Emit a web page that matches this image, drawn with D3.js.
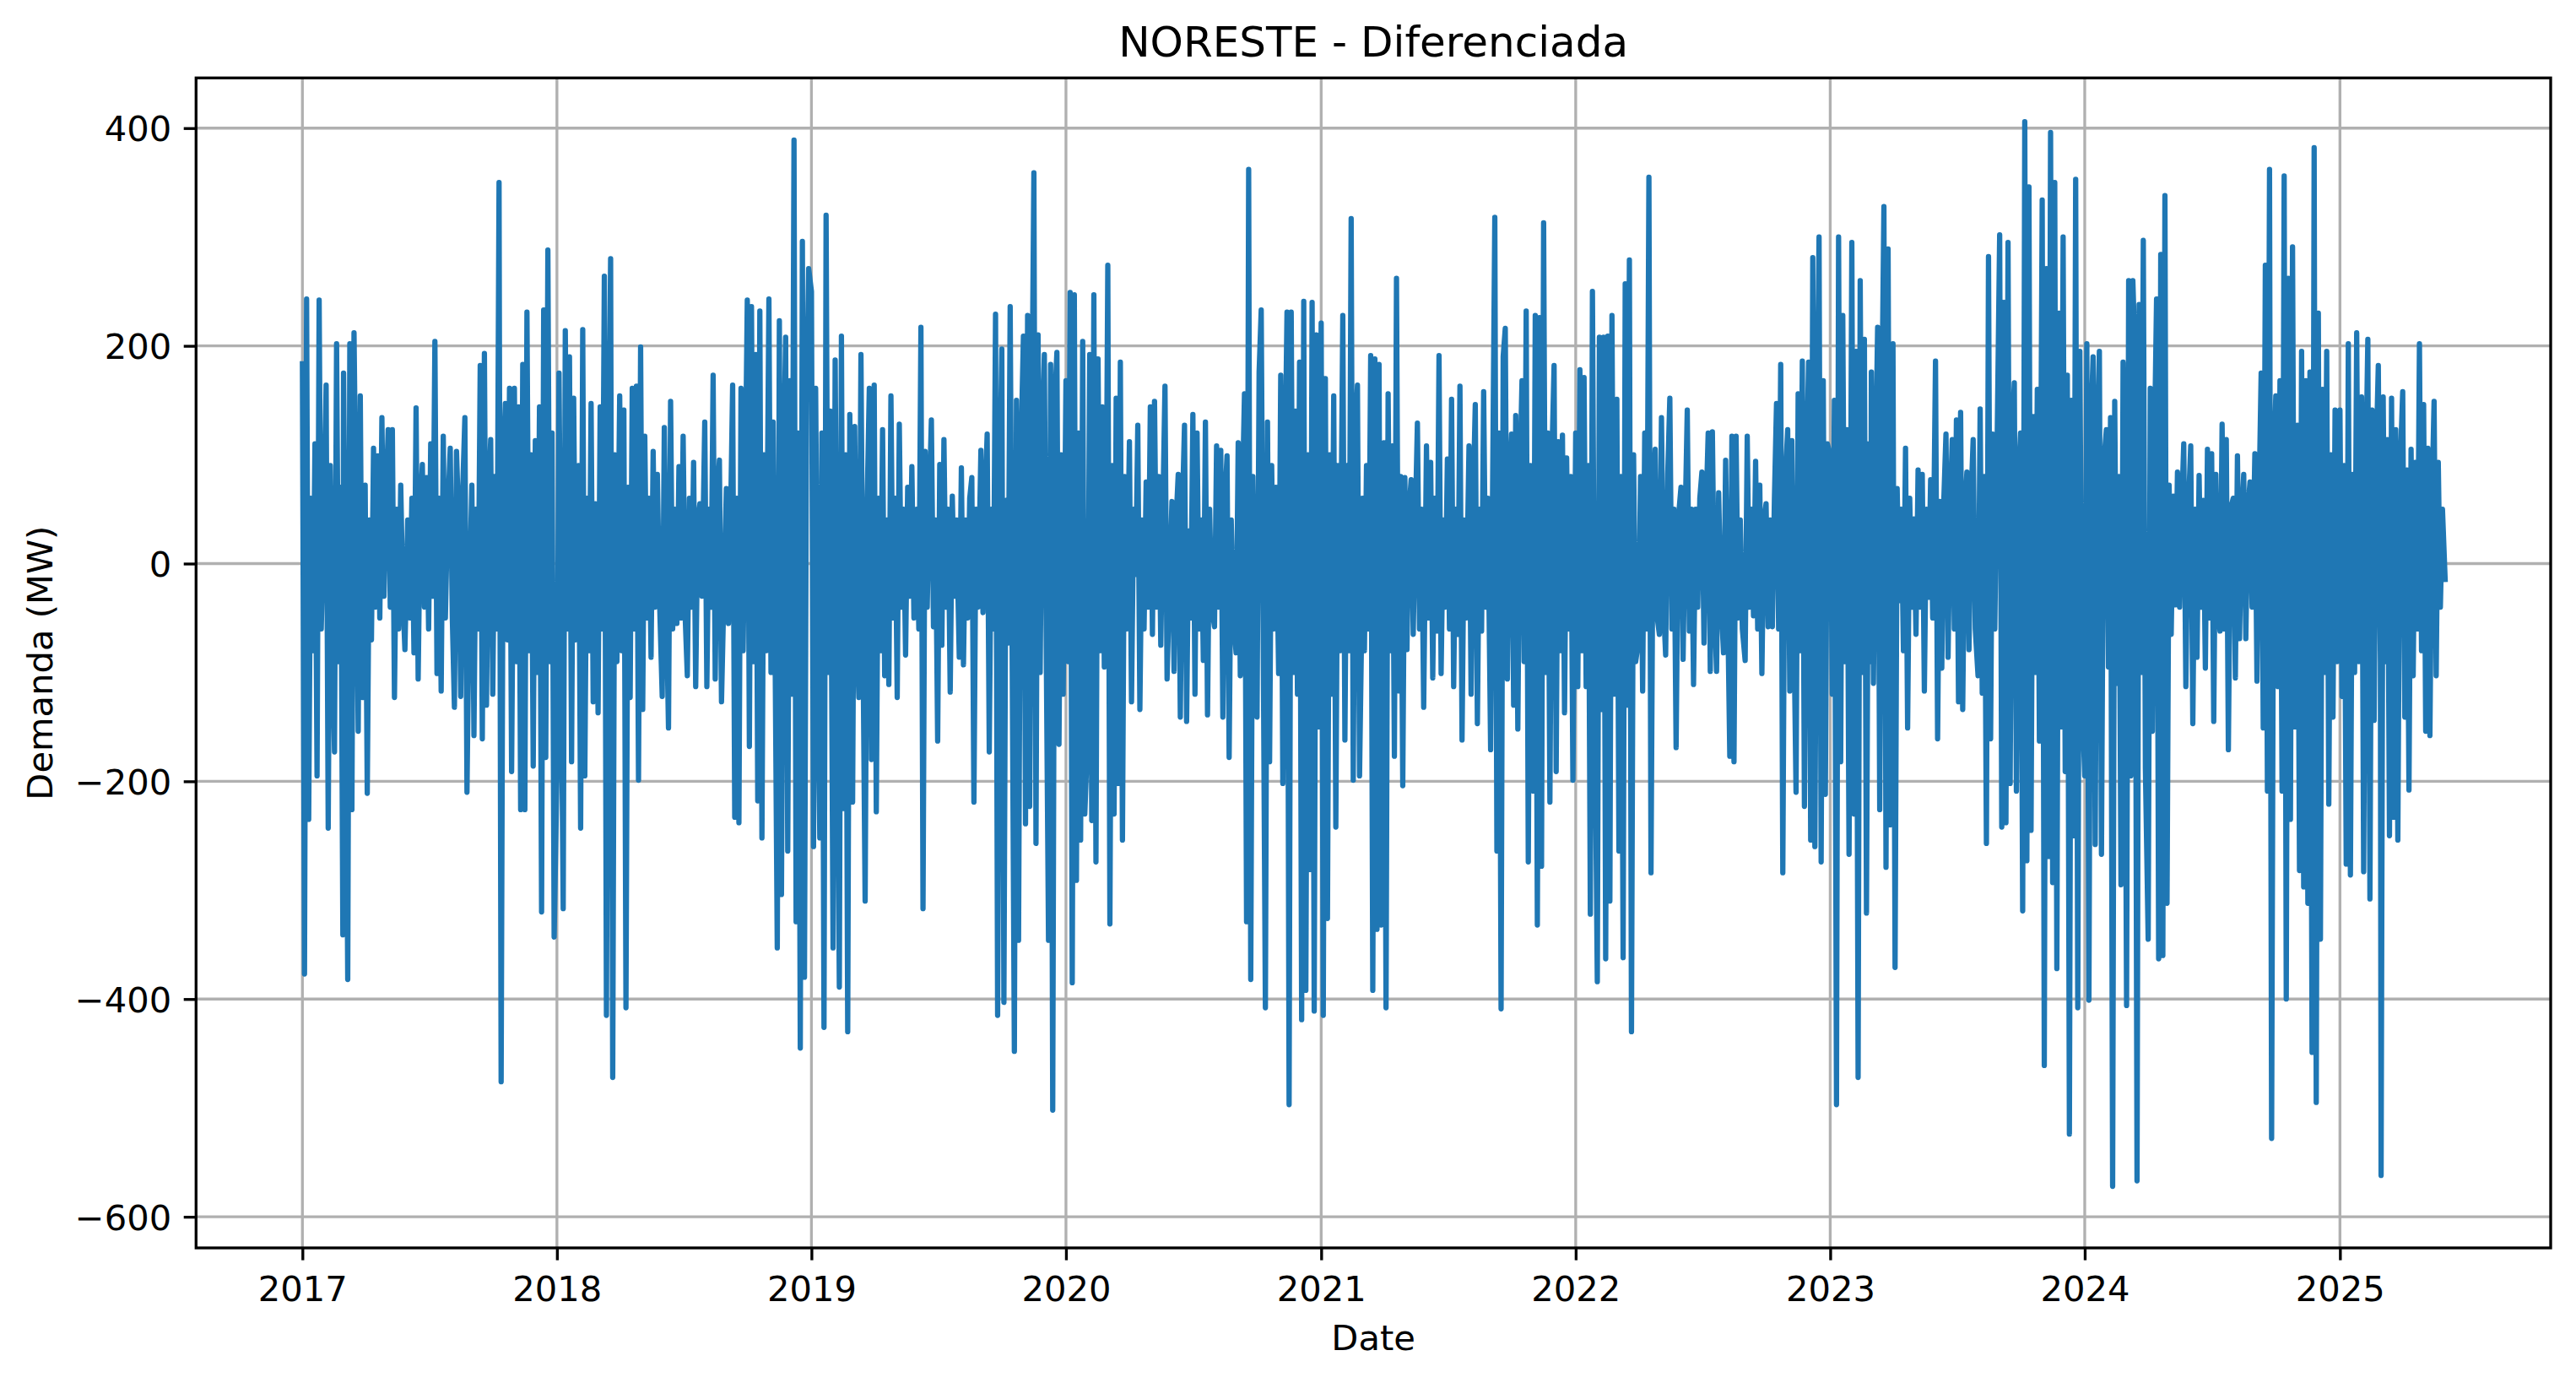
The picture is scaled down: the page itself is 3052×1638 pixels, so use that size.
<!DOCTYPE html>
<html>
<head>
<meta charset="utf-8">
<script src="https://cdn.jsdelivr.net/npm/d3@7"></script>
<style>
  body { margin: 0; background: #fff; }
  text { font-family: "DejaVu Sans", sans-serif; fill: #000; }
</style>
</head>
<body>
<svg id="vis"></svg>
<script>
const width = 3052;
const height = 1638;
const margin = { top: 92.3, right: 30, bottom: 160, left: 232.3 };

const title = "NORESTE - Diferenciada";
const xLabel = "Date";
const yLabel = "Demanda (MW)";

const yearTicks = [2017, 2018, 2019, 2020, 2021, 2022, 2023, 2024, 2025];
const yTicks = [-600, -400, -200, 0, 200, 400];

// differenced daily demand: one row per month,
// values every 3 days starting on the 1st
const d2017 = [
  [186,-377,243,-235,60,-80,110,-195,242,-60],
  [50,164,-243,90,-60,-173,202,-90,70,-341],
  [175,-60,-382,202,-226,212,40,-154,154,-123],
  [72,-211,40,-70,106,-40,99,-50,134,-30],
  [60,123,-40,123,-123,50,-60,72,-30,-79],
  [40,-50,60,-82,143,-106,50,91,-40,79],
  [-60,110,-30,204,-101,60,-117,117,-50,40],
  [106,-50,-132,103,40,-122,70,134,-210,-40],
  [72,-158,50,-60,182,-161,193,-130,60,114],
  [-120,80,-60,350,-476,90,147,-70,161,-191],
  [161,-90,144,-226,183,-226,231,-80,100,-186],
  [113,-100,144,-320,233,-178,288,-90,120,-343]
];
const d2018 = [
  [-195,175,-80,-317,214,-60,190,-182,152,-70],
  [90,-243,215,-195,60,-80,147,-127,55,-60],
  [-137,144,-60,264,-415,80,280,-472,100,-90],
  [154,-80,141,-408,70,-123,161,-60,163,-199],
  [199,-134,117,-50,60,-86,103,-40,82,-30],
  [-122,125,-40,-151,149,-60,50,-55,89,-50],
  [117,-50,-103,60,-40,93,-113,40,55,-30],
  [130,-113,50,-40,173,-106,60,95,-127,-40],
  [69,-55,40,164,-233,60,-238,161,-80,70],
  [242,-168,236,-90,192,-218,232,-252,100,-80],
  [243,-100,130,-90,-353,223,-304,90,208,-264],
  [168,-120,389,-329,120,-445,296,-380,150,271]
];
const d2019 = [
  [250,-260,161,-90,-252,120,-426,320,-100,140],
  [-353,187,-100,-389,209,-225,100,-430,137,-80],
  [-219,126,-60,-123,192,-80,-310,60,161,-180],
  [164,-228,60,-80,123,-103,40,-111,154,-50],
  [60,-123,128,-40,50,-84,70,-30,89,-50],
  [50,-60,217,-317,103,-40,60,132,-58,40],
  [-163,91,-75,114,-40,50,-118,62,-30,40],
  [-86,88,-93,40,-50,60,79,-219,50,-40],
  [104,-45,60,119,-173,50,-60,229,-415,70],
  [197,-403,58,-73,236,-100,-448,150,-346,90],
  [209,-239,228,-223,120,359,-257,210,-100,120],
  [192,-100,-346,183,-502,150,194,-166,100,-120]
];
const d2020 = [
  [168,-90,249,-385,247,-291,120,-254,204,-230],
  [-161,192,-236,247,-274,188,-80,144,-95,60],
  [274,-331,90,-230,152,-202,185,-254,80,-60],
  [112,-127,50,-10,127,-134,40,-60,75,-40],
  [144,-65,149,-40,80,-75,50,163,-106,-30],
  [57,-99,40,82,-141,50,127,-145,30,-50],
  [137,-120,120,-60,40,-89,130,-139,50,-40],
  [-58,108,-40,104,-141,60,99,-178,40,-50],
  [-82,111,-103,60,156,-329,362,-382,80,-60],
  [-141,176,233,-80,-408,130,-182,90,-60,70],
  [-101,173,-202,80,231,-497,231,-100,140,-120],
  [185,-419,241,-392,100,-281,240,-411,210,-150]
];
const d2021 = [
  [221,-415,170,-326,100,-120,154,-242,90,-80],
  [228,-162,90,-80,317,-199,120,164,-195,-60],
  [60,-80,90,-60,191,-392,188,-336,183,-332],
  [111,-408,156,-80,108,-177,262,-117,80,-204],
  [79,-79,50,77,-65,40,129,-60,50,-132],
  [108,-50,93,-105,60,-62,191,-101,40,-40],
  [96,-60,151,-113,50,-65,163,-162,40,-50],
  [108,-120,60,146,-147,50,-62,158,-40,60],
  [-171,80,318,-264,120,-409,190,216,-106,70],
  [119,-130,136,-152,80,168,-90,232,-274,90],
  [-209,228,-332,226,-278,313,-100,120,-219,100],
  [182,-191,112,-80,118,-137,97,-60,80,-199]
];
const d2022 = [
  [120,-113,178,-80,171,-113,90,-322,250,-100],
  [-384,208,-134,208,-363,209,-310,228,-120,100],
  [151,-264,80,-362,257,-130,279,-430,100,-90],
  [-72,80,-117,120,-60,355,-284,60,105,-50],
  [-65,134,-40,-84,82,152,-60,50,-169,40],
  [70,-88,40,141,-62,50,-111,50,-40,60],
  [84,-73,50,120,-99,121,-40,-99,65,-30],
  [-82,95,-40,-177,117,-182,117,-50,40,-60],
  [-89,117,-40,50,-48,94,-60,72,-101,40],
  [55,-58,40,-58,60,147,-60,183,-284,70],
  [123,-117,113,-60,-210,156,-80,186,-223,90],
  [185,-254,281,-260,120,300,-274,168,-212,110]
];
const d2023 = [
  [100,-120,150,-497,300,-182,228,-90,123,-267],
  [295,-230,195,-472,260,-100,206,-321,110,-90],
  [176,-110,90,217,-226,140,328,-279,289,-240],
  [202,-371,69,-34,50,-80,106,-151,60,-40],
  [41,-65,86,-40,82,-117,50,-31,77,-50],
  [186,-161,57,-96,60,119,-86,50,114,-60],
  [132,-127,139,-134,50,84,-79,60,114,-60],
  [-103,142,-119,80,-257,282,-161,119,-60,90],
  [302,-242,240,-238,295,-202,120,166,-209,80],
  [120,-319,406,-273,346,-245,135,-100,160,-163],
  [334,-461,271,-269,396,-293,350,-372,230,-150],
  [300,-191,173,-524,150,-250,353,-408,195,-120]
];
const d2024 = [
  [-195,202,-401,130,190,-258,120,195,-267,90],
  [123,-95,134,-572,149,-110,80,-295,185,-100],
  [-406,260,-195,260,195,-567,238,-100,297,-188],
  [-345,161,-154,110,243,-363,284,-360,338,-312],
  [72,-65,62,-38,84,-40,50,110,-113,40],
  [108,-147,50,-86,81,-40,58,-96,105,-50],
  [101,-145,82,-40,-62,128,-60,114,-171,50],
  [60,-105,99,-69,40,82,-69,50,75,-40],
  [101,-108,60,175,-151,274,-209,362,-528,90],
  [154,-113,168,-209,356,-400,262,-235,291,-150],
  [127,-282,195,-297,168,-312,176,-449,382,-495],
  [230,-345,160,-100,195,-221,100,-141,141,-90]
];
const d2025 = [
  [141,-122,90,-276,202,-286,82,-100,212,-90],
  [153,-283,80,206,-308,141,-144,100,182,-90],
  [-562,153,-90,114,-250,152,-233,123,-254,80],
  [158,-141,86,-208,105,-103,93,-60,202,-80],
  [146,-154,106,-158,60,149,-103,93,-40,50],
  [-17]
];

const years = [2017, 2018, 2019, 2020, 2021, 2022, 2023, 2024, 2025];
const yearRows = [d2017, d2018, d2019, d2020, d2021, d2022, d2023, d2024, d2025];

const DAY = 864e5;
const xStart = new Date(new Date(2017, 0, 1).getTime() - 152.5 * DAY);
const xEnd = new Date(new Date(2025, 0, 1).getTime() + 302.2 * DAY);
const yMin = -628.6;
const yMax = 446.1;

const svg = d3.select("svg#vis").attr("width", width).attr("height", height);
svg.append("rect").attr("width", width).attr("height", height).attr("fill", "#fff");

const innerW = width - margin.left - margin.right;
const innerH = height - margin.top - margin.bottom;

const plot = svg.append("g").attr("transform", translate(margin.left, margin.top));

const series = [];
years.forEach((yr, k) => {
  yearRows[k].forEach((row, m) => {
    row.forEach((v, i) => series.push({ date: new Date(yr, m, 1 + 3 * i), value: v }));
  });
});

const x = d3.scaleTime().domain([xStart, xEnd]).range([0, innerW]);
const y = d3.scaleLinear().domain([yMin, yMax]).range([innerH, 0]);

const lw = 0.8 * 300 / 72;   // spine / grid width
const tickLen = 3.5 * 300 / 72;
const fontTick = 10 * 300 / 72;

// grid
const grid = plot.append("g");
grid.selectAll("line.gx")
  .data(yearTicks)
  .enter()
  .append("line")
  .attr("x1", d => x(new Date(d, 0, 1)))
  .attr("x2", d => x(new Date(d, 0, 1)))
  .attr("y1", 0)
  .attr("y2", innerH)
  .style("stroke", "#b0b0b0")
  .style("stroke-width", lw);
grid.selectAll("line.gy")
  .data(yTicks)
  .enter()
  .append("line")
  .attr("x1", 0)
  .attr("x2", innerW)
  .attr("y1", d => y(d))
  .attr("y2", d => y(d))
  .style("stroke", "#b0b0b0")
  .style("stroke-width", lw);

// the series
plot.append("path")
  .datum(series)
  .attr("d", d3.line().x(d => x(d.date)).y(d => y(d.value)))
  .style("fill", "none")
  .style("stroke", "#1f77b4")
  .style("stroke-width", 1.5 * 300 / 72)
  .style("stroke-linejoin", "round");

// axes
const xAxis = plot.append("g")
  .attr("transform", translate(0, innerH))
  .call(d3.axisBottom(x)
    .tickValues(yearTicks.map(d => new Date(d, 0, 1)))
    .tickFormat(d3.timeFormat("%Y"))
    .tickSize(tickLen)
    .tickSizeOuter(0)
    .tickPadding(tickLen));
xAxis.select(".domain").remove();
xAxis.selectAll("line").style("stroke", "#000").style("stroke-width", lw);
xAxis.selectAll("text").style("font-size", fontTick + "px").attr("dy", "0.8em")
  .style("font-family", "DejaVu Sans");

const yAxis = plot.append("g")
  .call(d3.axisLeft(y)
    .tickValues(yTicks)
    .tickFormat(d3.format("d"))
    .tickSize(tickLen)
    .tickSizeOuter(0)
    .tickPadding(tickLen));
yAxis.select(".domain").remove();
yAxis.selectAll("line").style("stroke", "#000").style("stroke-width", lw);
yAxis.selectAll("text").style("font-size", fontTick + "px").attr("dy", "0.365em")
  .style("font-family", "DejaVu Sans");

// spines
plot.append("rect")
  .attr("width", innerW)
  .attr("height", innerH)
  .style("fill", "none")
  .style("stroke", "#000")
  .style("stroke-width", lw);

// labels
svg.append("text")
  .attr("x", margin.left + innerW / 2)
  .attr("y", 67)
  .attr("text-anchor", "middle")
  .style("font-size", (12 * 300 / 72) + "px")
  .text(title);

svg.append("text")
  .attr("x", margin.left + innerW / 2)
  .attr("y", 1599)
  .attr("text-anchor", "middle")
  .style("font-size", fontTick + "px")
  .text(xLabel);

svg.append("text")
  .attr("transform", translate(62, margin.top + innerH / 2) + " rotate(-90)")
  .attr("text-anchor", "middle")
  .style("font-size", fontTick + "px")
  .text(yLabel);

function translate(x, y) {
  return "translate(" + String(x) + "," + String(y) + ")";
}
</script>
</body>
</html>
